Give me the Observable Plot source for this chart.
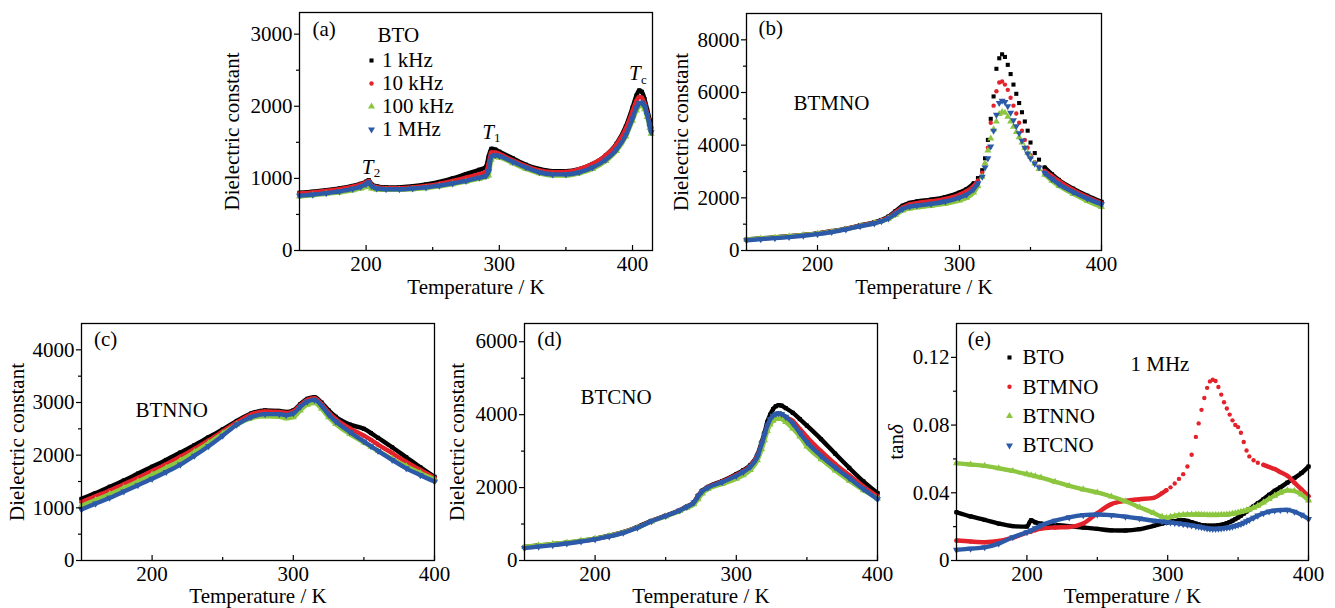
<!DOCTYPE html>
<html><head><meta charset="utf-8">
<script src="https://cdn.jsdelivr.net/npm/d3@7"></script>
<script src="https://cdn.jsdelivr.net/npm/@observablehq/plot@0.6"></script>
<style>
body{margin:0;background:#fff;}
#fig{position:relative;width:1335px;height:608px;overflow:hidden;background:#fff;}
</style></head><body><div id="fig"></div>
<script>
// ---------- DATA ----------
const xMajorTicks = [200, 300, 400];
const xMinorTicks = [250, 350];
const freqNames = ["1 kHz", "10 kHz", "100 kHz", "1 MHz"];
const sampleNames = ["BTO", "BTMNO", "BTNNO", "BTCNO"];

// (a) BTO
const tempA = [150,160,170,180,190,196,200,202,204,208,215,225,235,245,255,265,275,285,290,292,294,297,300,310,320,330,340,350,360,370,380,388,395,400,403,405,407,409,411,413,414];
const epsA_1kHz   = [800,815,835,860,895,925,955,975,920,890,875,875,890,915,950,1000,1060,1120,1160,1300,1410,1400,1370,1280,1190,1130,1100,1100,1130,1200,1320,1480,1720,1980,2150,2220,2200,2100,1950,1800,1700];
const epsA_10kHz  = [790,805,825,850,885,915,945,965,910,880,865,865,875,895,925,965,1010,1060,1090,1200,1360,1360,1340,1250,1170,1110,1085,1090,1130,1200,1320,1470,1690,1930,2080,2130,2120,2040,1900,1750,1650];
const epsA_100kHz = [750,765,785,805,835,860,880,885,860,845,840,840,850,865,890,920,955,995,1020,1040,1260,1300,1290,1210,1130,1070,1040,1040,1070,1130,1240,1380,1580,1800,1940,2000,2010,1960,1850,1700,1620];
const epsA_1MHz   = [760,775,795,820,855,885,920,945,895,860,850,850,860,875,900,930,965,1010,1035,1100,1300,1320,1310,1230,1150,1085,1055,1055,1085,1150,1260,1400,1600,1830,1980,2040,2050,2000,1880,1720,1640];
const annoA_T   = [201.2, 291.5, 401.8];
const annoA_eps = [1157, 1646, 2451];
const annoA_sub = ["2", "1", "c"];

// (b) BTMNO
const tempB = [150,160,170,180,190,200,210,220,230,240,245,250,255,260,265,270,280,290,300,305,310,313,316,318,320,322,324,326,328,330,332,334,336,338,340,342,344,346,348,350,353,356,360,365,370,380,390,400];
const epsB_1kHz   = [420,460,500,540,590,650,730,830,950,1070,1160,1290,1500,1700,1810,1860,1930,2030,2200,2330,2550,2750,3050,3500,4200,5000,5850,6900,7300,7450,7350,7050,6700,6300,5950,5600,5250,4900,4550,4100,3700,3450,3150,2900,2680,2350,2080,1850];
const epsB_10kHz  = [410,450,490,530,580,640,720,820,940,1055,1140,1260,1450,1640,1750,1800,1870,1960,2120,2250,2450,2650,2950,3300,3900,4850,5500,6050,6380,6420,6300,6100,5800,5500,5200,4850,4550,4200,3900,3620,3350,3180,3020,2830,2640,2300,2030,1800];
const epsB_100kHz = [420,455,495,535,585,640,715,810,925,1040,1110,1210,1360,1520,1600,1640,1700,1780,1900,2000,2200,2450,2800,3300,3800,4250,4600,4900,5180,5260,5230,5080,4900,4700,4500,4300,4100,3900,3700,3550,3300,3100,2880,2650,2450,2150,1880,1650];
const epsB_1MHz   = [390,430,470,510,560,620,700,800,920,1030,1110,1220,1400,1580,1670,1710,1770,1860,2010,2120,2330,2550,2800,3150,3500,3950,4550,5150,5600,5690,5640,5480,5230,4950,4720,4450,4170,3900,3680,3500,3300,3150,2950,2720,2520,2220,1970,1760];

// (c) BTNNO
const tempC = [150,160,170,180,190,200,210,220,230,240,250,260,270,280,290,295,300,305,310,315,320,325,330,340,350,355,360,370,380,390,400];
const epsC_1kHz   = [1170,1280,1400,1520,1650,1780,1910,2050,2190,2340,2490,2650,2790,2850,2840,2820,2850,2970,3070,3100,3000,2850,2730,2580,2500,2420,2330,2150,1960,1770,1590];
const epsC_10kHz  = [1110,1220,1330,1450,1570,1700,1830,1970,2120,2280,2450,2620,2770,2830,2820,2800,2830,2950,3050,3080,2970,2810,2690,2510,2370,2290,2200,2040,1870,1720,1570];
const epsC_100kHz = [1040,1150,1260,1380,1500,1630,1760,1900,2060,2230,2410,2580,2700,2740,2730,2700,2720,2850,2960,2990,2880,2720,2590,2400,2240,2160,2080,1930,1790,1660,1540];
const epsC_1MHz   = [970,1080,1190,1310,1430,1550,1680,1820,1990,2170,2370,2580,2720,2780,2780,2760,2790,2920,3020,3050,2940,2770,2640,2440,2260,2170,2080,1910,1750,1620,1500];

// (d) BTCNO
const tempD = [150,160,170,180,190,200,210,220,230,240,250,260,265,270,273,276,280,290,300,305,310,315,318,320,322,324,326,328,330,332,335,340,345,350,360,370,380,390,400];
const epsD_1kHz   = [370,410,450,490,540,600,680,780,920,1090,1230,1380,1480,1600,1780,1920,2020,2180,2370,2480,2620,2900,3250,3500,3800,4000,4150,4230,4260,4250,4180,4050,3880,3700,3330,2930,2540,2170,1850];
const epsD_10kHz  = [360,400,440,480,530,590,670,770,910,1080,1225,1375,1475,1595,1770,1910,2010,2165,2345,2455,2595,2880,3200,3450,3700,3850,3950,4000,4020,4000,3930,3830,3610,3390,3000,2650,2340,2030,1760];
const epsD_100kHz = [380,415,455,495,545,600,675,770,905,1070,1210,1360,1450,1540,1680,1840,1960,2100,2240,2340,2480,2750,3050,3300,3550,3730,3830,3880,3900,3880,3800,3620,3400,3130,2780,2470,2190,1930,1700];
const epsD_1MHz   = [340,380,420,465,520,580,660,760,900,1075,1220,1370,1470,1590,1760,1900,2000,2150,2320,2430,2570,2850,3200,3450,3700,3870,3970,4020,4040,4020,3940,3760,3500,3250,2870,2550,2260,1960,1680];

// (e) tan delta at 1 MHz
const tempE = [150,160,170,180,190,200,203,206,210,220,230,240,250,260,270,280,290,296,299,302,305,308,311,314,317,320,322,324,326,328,330,332,334,336,338,340,342,344,346,348,350,352,354,356,358,361,364,368,372,376,380,385,390,395,400];
const tanE_BTO   = [0.0285,0.0260,0.0240,0.0218,0.0203,0.0200,0.0238,0.0225,0.0218,0.0210,0.0203,0.0195,0.0187,0.0178,0.0177,0.0185,0.0205,0.0218,0.0224,0.0229,0.0233,0.0237,0.0238,0.0234,0.0226,0.0218,0.0213,0.0209,0.0207,0.0206,0.0205,0.0205,0.0206,0.0208,0.0211,0.0215,0.0220,0.0227,0.0235,0.0244,0.0254,0.0265,0.0277,0.0290,0.0302,0.0320,0.0338,0.0362,0.0388,0.0412,0.0432,0.0460,0.0487,0.0517,0.0555];
const tanE_BTMNO = [0.0118,0.0112,0.0108,0.0115,0.0135,0.0165,0.0172,0.0180,0.0188,0.0195,0.0198,0.0218,0.0280,0.0333,0.0352,0.0362,0.0370,0.0398,0.0415,0.0432,0.0455,0.0482,0.0510,0.0555,0.0625,0.0730,0.0810,0.0890,0.0960,0.1020,0.1058,0.1068,0.1060,0.1025,0.0980,0.0935,0.0898,0.0862,0.0828,0.0800,0.0788,0.0755,0.0700,0.0650,0.0615,0.0592,0.0577,0.0565,0.0552,0.0540,0.0522,0.0500,0.0460,0.0420,0.0380];
const tanE_BTNNO = [0.0575,0.0567,0.0559,0.0545,0.0529,0.0510,0.0504,0.0498,0.0490,0.0465,0.0441,0.0420,0.0402,0.0378,0.0350,0.0315,0.0280,0.0258,0.0252,0.0258,0.0263,0.0267,0.0270,0.0272,0.0272,0.0272,0.0271,0.0270,0.0270,0.0269,0.0269,0.0269,0.0269,0.0269,0.0270,0.0270,0.0271,0.0273,0.0276,0.0279,0.0283,0.0287,0.0291,0.0296,0.0302,0.0312,0.0323,0.0343,0.0364,0.0383,0.0400,0.0414,0.0410,0.0390,0.0355];
const tanE_BTCNO = [0.0063,0.0070,0.0078,0.0100,0.0137,0.0167,0.0177,0.0190,0.0206,0.0235,0.0255,0.0268,0.0272,0.0268,0.0259,0.0248,0.0235,0.0230,0.0227,0.0225,0.0222,0.0219,0.0215,0.0211,0.0207,0.0203,0.0200,0.0197,0.0193,0.0190,0.0188,0.0187,0.0187,0.0188,0.0190,0.0192,0.0194,0.0196,0.0200,0.0205,0.0210,0.0216,0.0223,0.0231,0.0240,0.0253,0.0265,0.0279,0.0289,0.0295,0.0298,0.0299,0.0288,0.0270,0.0245];

// ---------- STYLE ----------
const FONT = "'Liberation Serif', 'Times New Roman', Times, serif";
const seriesStyle = [
  {fill: "#000000", symbol: "square",   r: 2.3, rotate: 0},
  {fill: "#e3222b", symbol: "circle",   r: 2.2, rotate: 0},
  {fill: "#8cc63f", symbol: "triangle", r: 2.6, rotate: 0},
  {fill: "#2c5aa9", symbol: "triangle", r: 2.6, rotate: 180}
];

function dataMarks(temps, seriesList, sparse) {
  const marks = [];
  seriesList.forEach((vals, i) => {
    const st = seriesStyle[i];
    const rows = temps.map((T, j) => ({T, v: vals[j]}));
    const gap = sparse ? sparse[i] : null;
    marks.push(Plot.line(rows, {x: "T", y: d => (gap && d.T > gap[0] && d.T < gap[1]) ? NaN : d.v,
      stroke: st.fill, strokeWidth: 4.4, curve: "monotone-x"}));
    marks.push(Plot.dot(rows, {x: "T", y: "v", symbol: st.symbol, r: st.r, fill: st.fill, stroke: "none", rotate: st.rotate}));
  });
  return marks;
}
function label(text, dx, dy, opts = {}) {
  return Plot.text([text], {frameAnchor: "top-left", dx, dy, text: d => d, textAnchor: "start",
    lineAnchor: "middle", fontSize: 21, fill: "#000", ...opts});
}
function legendMarker(i, dx, dy) {
  const st = seriesStyle[i];
  return Plot.dot([0], {frameAnchor: "top-left", dx, dy, symbol: st.symbol, r: st.r, fill: st.fill, stroke: "none", rotate: st.rotate});
}

function panel(cfg) {
  const svg = Plot.plot({
    width: cfg.width, height: cfg.height,
    marginLeft: cfg.m[0], marginTop: cfg.m[1], marginRight: cfg.m[2], marginBottom: cfg.m[3],
    x: {domain: cfg.xDomain, label: null},
    y: {domain: cfg.yDomain, label: null},
    style: {fontFamily: FONT, fontSize: "21px", color: "#000", background: "transparent", overflow: "visible"},
    marks: [
      ...dataMarks(cfg.temps, cfg.series, cfg.sparse),
      Plot.frame({stroke: "#000", strokeWidth: 1.3}),
      Plot.axisX({ticks: xMajorTicks, tickSize: 0, tickPadding: 6, tickFormat: d => String(d), label: null}),
      Plot.axisX({ticks: xMajorTicks, tickSize: -5, fill: "none", strokeWidth: 1.2}),
      Plot.axisX({ticks: xMinorTicks, tickSize: -3, fill: "none", strokeWidth: 1.2}),
      Plot.axisY({ticks: cfg.yMajor, tickSize: 5, tickPadding: 2, tickFormat: cfg.yFormat, label: null, strokeWidth: 1.2}),
      Plot.axisY({ticks: cfg.yMinor, tickSize: 3, fill: "none", strokeWidth: 1.2}),
      Plot.text(["Temperature / K"], {frameAnchor: "bottom", dy: cfg.xLabelDy, text: d => d, textAnchor: "middle", lineAnchor: "middle", fontSize: 21, fill: "#000"}),
      Plot.text([cfg.yLabel], {frameAnchor: "left", dx: cfg.yLabelDx, rotate: -90, text: d => d, textAnchor: "middle", lineAnchor: "middle", fontSize: 21, fill: "#000"}),
      ...(cfg.extra || [])
    ]
  });
  svg.style.position = "absolute";
  svg.style.left = cfg.left + "px";
  svg.style.top = cfg.top + "px";
  svg.style.overflow = "visible";
  svg.style.background = "transparent";
  svg.style.maxWidth = "none";
  document.getElementById("fig").appendChild(svg);
  return svg;
}

const intFmt = d => String(d);

// (a)
const annoA = annoA_T.map((T, i) => ({T, v: annoA_eps[i], sub: annoA_sub[i]}));
panel({
  left: 200, top: 0, width: 460, height: 300, m: [99, 12, 8, 50],
  xDomain: [150, 415], yDomain: [0, 3300],
  yMajor: [0, 1000, 2000, 3000], yMinor: [500, 1500, 2500], yFormat: intFmt,
  temps: tempA, series: [epsA_1kHz, epsA_10kHz, epsA_100kHz, epsA_1MHz],
  xLabelDy: 37, yLabel: "Dielectric constant", yLabelDx: -67.7,
  extra: [
    label("(a)", 13, 17),
    label(sampleNames[0], 78, 22.5),
    ...freqNames.flatMap((n, i) => [legendMarker(i, 72, 48 + i * 23), label(n, 82.5, 48 + i * 23)]),
    Plot.text(annoA, {x: "T", y: "v", text: () => "T", fontStyle: "italic", fontSize: 21, textAnchor: "middle", lineAnchor: "middle", fill: "#000"}),
    Plot.text(annoA, {x: "T", y: "v", text: "sub", fontSize: 13, dx: 6, dy: 6, textAnchor: "start", lineAnchor: "middle", fill: "#000"})
  ]
});

// (b)
panel({
  left: 660, top: 0, width: 460, height: 300, m: [86, 13, 19, 50],
  xDomain: [150, 400], yDomain: [0, 9000],
  yMajor: [0, 2000, 4000, 6000, 8000], yMinor: [1000, 3000, 5000, 7000], yFormat: intFmt,
  temps: tempB, series: [epsB_1kHz, epsB_10kHz, epsB_100kHz, epsB_1MHz],
  sparse: [[311, 357], [313, 357], [313, 357], [313, 357]],
  xLabelDy: 37, yLabel: "Dielectric constant", yLabelDx: -65.4,
  extra: [label("(b)", 12, 15), label(sampleNames[1], 47, 89.5)]
});

// (c)
panel({
  left: 0, top: 300, width: 445, height: 308, m: [81, 23, 11, 48],
  xDomain: [150, 400], yDomain: [0, 4500],
  yMajor: [0, 1000, 2000, 3000, 4000], yMinor: [500, 1500, 2500, 3500], yFormat: intFmt,
  temps: tempC, series: [epsC_1kHz, epsC_10kHz, epsC_100kHz, epsC_1MHz],
  xLabelDy: 36, yLabel: "Dielectric constant", yLabelDx: -63.8,
  extra: [label("(c)", 12.5, 16), label(sampleNames[2], 54, 87)]
});

// (d)
panel({
  left: 445, top: 300, width: 440, height: 308, m: [79, 23, 8, 48],
  xDomain: [150, 400], yDomain: [0, 6500],
  yMajor: [0, 2000, 4000, 6000], yMinor: [1000, 3000, 5000], yFormat: intFmt,
  temps: tempD, series: [epsD_1kHz, epsD_10kHz, epsD_100kHz, epsD_1MHz],
  xLabelDy: 36, yLabel: "Dielectric constant", yLabelDx: -67.4,
  extra: [label("(d)", 12.7, 16), label(sampleNames[3], 56, 74)]
});

// (e)
const svgE = panel({
  left: 885, top: 300, width: 450, height: 308, m: [71, 23, 27, 48],
  xDomain: [150, 400], yDomain: [0, 0.14],
  yMajor: [0, 0.04, 0.08, 0.12], yMinor: [0.02, 0.06, 0.10], yFormat: d => d === 0 ? "0" : d.toFixed(2),
  temps: tempE, series: [tanE_BTO, tanE_BTMNO, tanE_BTNNO, tanE_BTCNO],
  sparse: [null, [300, 365], null, null],
  xLabelDy: 36, yLabel: "tanδ", yLabelDx: -60.4,
  extra: [
    label("(e)", 11.3, 16),
    ...sampleNames.flatMap((n, i) => [legendMarker(i, 53, 34 + i * 29.3), label(n, 66, 34 + i * 29.3)]),
    label("1 MHz", 174, 40.3)
  ]
});
d3.select(svgE).selectAll("text").filter(function () { return this.textContent === "tanδ"; })
  .each(function () { const t = d3.select(this); t.text("tan"); t.append("tspan").attr("font-style", "italic").text("δ"); });
</script></body></html>
